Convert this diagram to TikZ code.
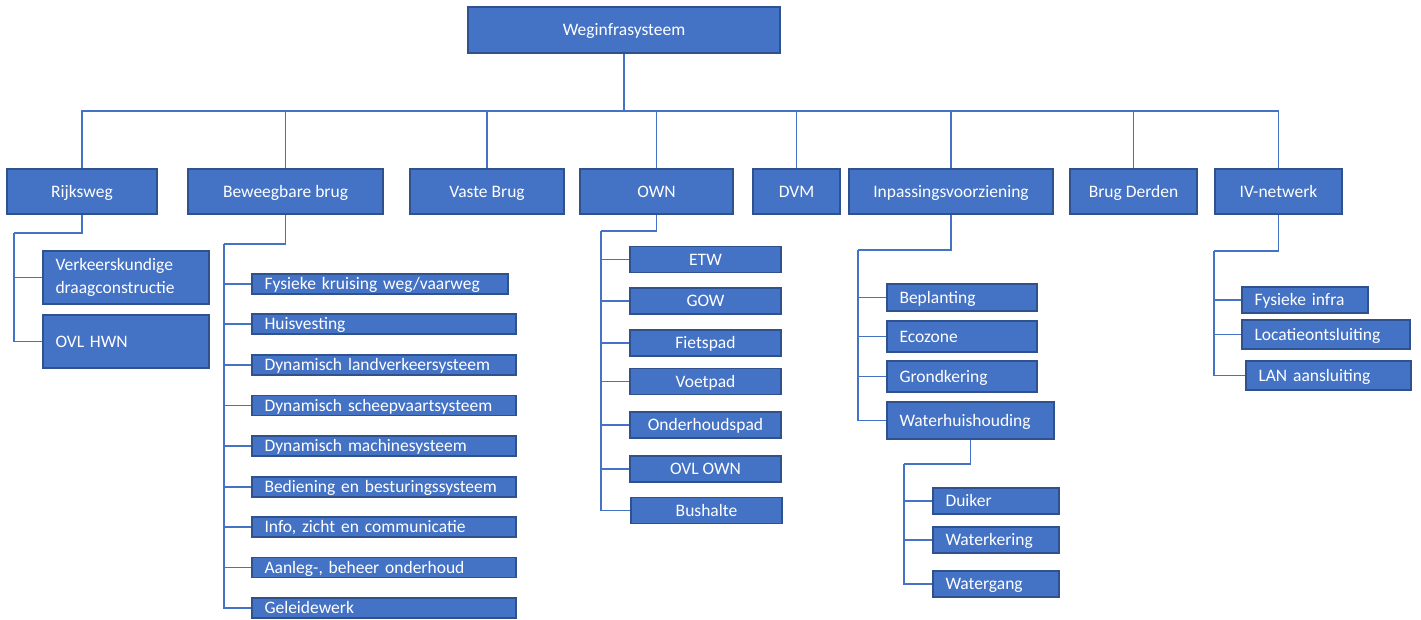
\documentclass[tikz,border=0pt]{standalone}
\usepackage{fontspec}
\setmainfont{Carlito}
\usepackage{tikz}

\definecolor{boxfill}{HTML}{4472C4}
\definecolor{boxedge}{HTML}{2F528F}

\tikzset{
  box/.style={draw=boxedge, fill=boxfill, text=white, line width=1.2pt,
              inner sep=0pt, font=\fontsize{17.5}{23}\selectfont},
  cbox/.style 2 args={box, minimum width=#1, minimum height=#2,
                      text height=11pt, text depth=0pt},
  lbox/.style 2 args={box, text width=#1, minimum height=#2,
                      text height=11pt, text depth=0pt,
                      inner xsep=12.5pt, align=left},
  link/.style={draw=boxfill, line width=1.4pt}
}

\begin{document}
\begin{tikzpicture}[x=1pt,y=-1pt]
  \useasboundingbox (0,0) rectangle (1421,619);

  % top
  \node[cbox={312pt}{46pt}] (top) at (624,30) {Weginfrasysteem};
  \coordinate (bus) at (624,111);

  % first level
  \node[cbox={150pt}{45pt}] (rijk)   at (82,191.5)   {Rijksweg};
  \node[cbox={195pt}{45pt}] (bew)    at (285.5,191.5) {Beweegbare brug};
  \node[cbox={154pt}{45pt}] (vast)   at (487,191.5)  {Vaste Brug};
  \node[cbox={153pt}{45pt}] (own)    at (656.5,191.5) {OWN};
  \node[cbox={87pt}{45pt}]  (dvm)    at (796.5,191.5) {DVM};
  \node[cbox={204pt}{45pt}] (inp)    at (951,191.5)  {Inpassingsvoorziening};
  \node[cbox={127pt}{45pt}] (derden) at (1133.5,191.5) {Brug Derden};
  \node[cbox={127pt}{45pt}] (iv)     at (1278.5,191.5) {IV-netwerk};

  \draw[link] (top.south) -- (bus);
  \foreach \n in {rijk,bew,vast,own,dvm,inp,derden,iv}
    \draw[link] (bus) -| (\n.north);

  % Rijksweg
  \coordinate (rijkk) at (14,233);
  \node[box, text width=141pt, minimum height=53pt, inner xsep=12.5pt,
        align=left] (verk) at (126,277.5) {Verkeerskundige\\draagconstructie};
  \node[lbox={141pt}{53pt}] (ovlh) at (126,341.5) {OVL HWN};
  \draw[link] (rijk.south) |- (rijkk);
  \foreach \n in {verk,ovlh}
    \draw[link] (rijkk) |- (\n.west);

  % Beweegbare brug
  \coordinate (bewk) at (224,244);
  \node[lbox={231pt}{20pt}] (fys)  at (380,284)   {Fysieke kruising weg/vaarweg};
  \node[lbox={239pt}{20pt}] (huis) at (384,324)   {Huisvesting};
  \node[lbox={239pt}{20pt}] (land) at (384,365)   {Dynamisch landverkeersysteem};
  \node[lbox={239pt}{20pt}] (schp) at (384,405.5) {Dynamisch scheepvaartsysteem};
  \node[lbox={239pt}{20pt}] (mach) at (384,446)   {Dynamisch machinesysteem};
  \node[lbox={239pt}{20pt}] (bed)  at (384,487)   {Bediening en besturingssysteem};
  \node[lbox={239pt}{20pt}] (info) at (384,527)   {Info, zicht en communicatie};
  \node[lbox={239pt}{20pt}] (aanl) at (384,567.5) {Aanleg-, beheer onderhoud};
  \node[lbox={239pt}{20pt}] (gel)  at (384,608)   {Geleidewerk};
  \draw[link] (bew.south) |- (bewk);
  \foreach \n in {fys,huis,land,schp,mach,bed,info,aanl,gel}
    \draw[link] (bewk) |- (\n.west);

  % OWN
  \coordinate (ownk) at (601,231);
  \node[cbox={151pt}{26pt}] (etw)  at (705.5,259.5) {ETW};
  \node[cbox={151pt}{26pt}] (gow)  at (705.5,301)   {GOW};
  \node[cbox={151pt}{26pt}] (fiet) at (705.5,343)   {Fietspad};
  \node[cbox={151pt}{26pt}] (voet) at (705.5,381.5) {Voetpad};
  \node[cbox={151pt}{26pt}] (ondh) at (705.5,425)   {Onderhoudspad};
  \node[cbox={151pt}{26pt}] (ovlo) at (705.5,469)   {OVL OWN};
  \node[cbox={151pt}{26pt}] (bus2) at (706.5,510.5) {Bushalte};
  \draw[link] (own.south) |- (ownk);
  \foreach \n in {etw,gow,fiet,voet,ondh,ovlo,bus2}
    \draw[link] (ownk) |- (\n.west);

  % Inpassingsvoorziening
  \coordinate (inpk) at (858,250);
  \node[lbox={125pt}{27pt}] (bepl) at (962,297.5)   {Beplanting};
  \node[lbox={125pt}{31pt}] (eco)  at (962,336.5)   {Ecozone};
  \node[lbox={125pt}{31pt}] (grnd) at (962,376.5)   {Grondkering};
  \node[lbox={142pt}{37pt}] (wat)  at (970.5,420.5) {Waterhuishouding};
  \draw[link] (inp.south) |- (inpk);
  \foreach \n in {bepl,eco,grnd,wat}
    \draw[link] (inpk) |- (\n.west);

  % Waterhuishouding
  \coordinate (watk) at (904,464);
  \node[lbox={101pt}{26pt}] (duik) at (996,501) {Duiker};
  \node[lbox={101pt}{26pt}] (wkr)  at (996,540) {Waterkering};
  \node[lbox={101pt}{26pt}] (wgng) at (996,584) {Watergang};
  \draw[link] (wat.south) |- (watk);
  \foreach \n in {duik,wkr,wgng}
    \draw[link] (watk) |- (\n.west);

  % IV-netwerk
  \coordinate (ivk) at (1214,251);
  \node[lbox={101pt}{26pt}] (finf) at (1305,300)    {Fysieke infra};
  \node[lbox={143pt}{29pt}] (loc)  at (1326,334.5)  {Locatieontsluiting};
  \node[lbox={140pt}{29pt}] (lan)  at (1328.5,375.5) {LAN aansluiting};
  \draw[link] (iv.south) |- (ivk);
  \foreach \n in {finf,loc,lan}
    \draw[link] (ivk) |- (\n.west);
\end{tikzpicture}
\end{document}
